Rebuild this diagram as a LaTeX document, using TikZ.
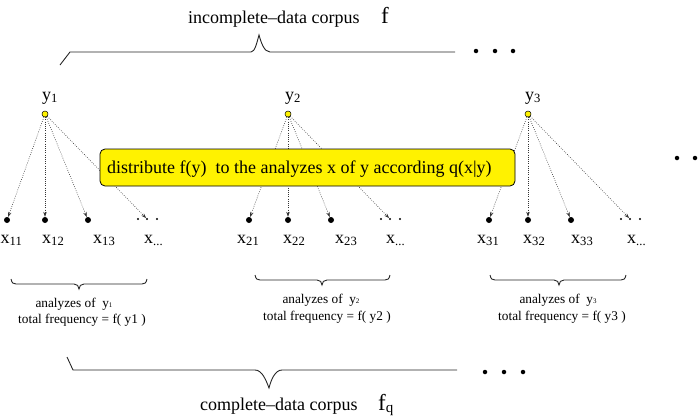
\documentclass[tikz,border=0pt]{standalone}
\usepackage{fontspec}
\setmainfont{Liberation Serif}
\usetikzlibrary{arrows.meta}
\newcommand\fsz[1]{\fontsize{#1}{#1}\selectfont}
\newcommand\sbrace[4]{%
  \draw[brace] ({#1},{#4-5}) .. controls ({#1+1},{#4-1}) and ({#1+2},{#4}) .. ({#1+5},{#4})
    -- ({#2-5},{#4}) .. controls ({#2-2},{#4}) and ({#2},{#4+2}) .. ({#2},{#4+5})
    .. controls ({#2},{#4+2}) and ({#2+2},{#4}) .. ({#2+5},{#4})
    -- ({#3-5},{#4}) .. controls ({#3-2},{#4}) and ({#3-1},{#4-1}) .. ({#3},{#4-5});}
\begin{document}
\begin{tikzpicture}[x=1pt,y=-1pt,
  xdot/.style={circle,fill=black,inner sep=0pt,minimum size=6pt},
  sdot/.style={circle,fill=black,inner sep=0pt,minimum size=2.2pt},
  bigdot/.style={circle,fill=black,inner sep=0pt,minimum size=4.5pt},
  ydot/.style={circle,fill=yellow,draw=black,line width=0.5pt,inner sep=0pt,minimum size=6pt},
  arr/.style={draw=black!80,line width=0.6pt,dash pattern=on 0.7pt off 1.5pt,-{Stealth[length=5pt,width=3.5pt]}},
  brace/.style={draw=black!85,line width=0.9pt},
  lbl/.style={inner sep=0pt,anchor=base west,font=\fsz{18}},
  small/.style={inner sep=0pt,anchor=base,font=\fsz{13.3}}]
\useasboundingbox (0,0) rectangle (698,418);
% top title
\node[lbl] (ttl) at (188,23) {incomplete--data corpus};
\node[lbl,font=\fsz{23}] (tf) at (381,23) {f};
\draw[brace] (60,65) -- (70,52) -- (251,52) .. controls (255,52) and (257,42) .. (259,35)
  .. controls (261,42) and (264,52) .. (270,52) -- (455,52);
\node[bigdot] (td1) at (476,51) {};
\node[bigdot] (td2) at (495,51) {};
\node[bigdot] (td3) at (513,51) {};
% y nodes
\node[ydot] (y1) at (45,114) {};
\node[ydot] (y2) at (288,114) {};
\node[ydot] (y3) at (528,114) {};
\node[lbl] (ly1) at (42,100) {y\textsubscript{1}};
\node[lbl] (ly2) at (285,100) {y\textsubscript{2}};
\node[lbl] (ly3) at (525,100) {y\textsubscript{3}};
% x nodes group 1
\node[xdot] (x11) at (7,220) {};
\node[xdot] (x12) at (45,220) {};
\node[xdot] (x13) at (88,220) {};
\node[sdot] (x1a) at (138,219) {};
\node[sdot] (x1b) at (147,219) {};
\node[sdot] (x1c) at (157,219) {};
% group 2
\node[xdot] (x21) at (249,220) {};
\node[xdot] (x22) at (288,220) {};
\node[xdot] (x23) at (331,220) {};
\node[sdot] (x2a) at (381,219) {};
\node[sdot] (x2b) at (390,219) {};
\node[sdot] (x2c) at (400,219) {};
% group 3
\node[xdot] (x31) at (489,220) {};
\node[xdot] (x32) at (528,220) {};
\node[xdot] (x33) at (571,220) {};
\node[sdot] (x3a) at (621,219) {};
\node[sdot] (x3b) at (630,219) {};
\node[sdot] (x3c) at (640,219) {};
% x labels
\node[lbl] (lx11) at (0.5,243) {x\textsubscript{11}};
\node[lbl] (lx12) at (42,243) {x\textsubscript{12}};
\node[lbl] (lx13) at (93,243) {x\textsubscript{13}};
\node[lbl] (lx1) at (144,243) {x\textsubscript{...}};
\node[lbl] (lx21) at (237,243) {x\textsubscript{21}};
\node[lbl] (lx22) at (283,243) {x\textsubscript{22}};
\node[lbl] (lx23) at (335,243) {x\textsubscript{23}};
\node[lbl] (lx2) at (386,243) {x\textsubscript{...}};
\node[lbl] (lx31) at (477,243) {x\textsubscript{31}};
\node[lbl] (lx32) at (523,243) {x\textsubscript{32}};
\node[lbl] (lx33) at (571,243) {x\textsubscript{33}};
\node[lbl] (lx3) at (627,243) {x\textsubscript{...}};
% arrows
\draw[arr] (y1) -- (x11);
\draw[arr] (y1) -- (x12);
\draw[arr] (y1) -- (x13);
\draw[arr] (y1) -- (x1b);
\draw[arr] (y2) -- (x21);
\draw[arr] (y2) -- (x22);
\draw[arr] (y2) -- (x23);
\draw[arr] (y2) -- (x2b);
\draw[arr] (y3) -- (x31);
\draw[arr] (y3) -- (x32);
\draw[arr] (y3) -- (x33);
\draw[arr] (y3) -- (x3b);
% right dots
\node[bigdot] (rd1) at (677,158) {};
\node[bigdot] (rd2) at (695,158) {};
% box
\draw[fill=yellow,draw=black,line width=0.8pt,rounded corners=5pt] (100,149) rectangle (515,186);
\node[lbl] (boxt) at (107,173) {distribute f(y)\ \ to the analyzes x of y according q(x|y)};
% small braces
\sbrace{11}{79}{147}{284}
\sbrace{255}{322}{390}{280}
\sbrace{490}{559}{626}{280}
\node[small] (a1) at (74,307) {analyzes of\ \ y{\fsz{7}1}};
\node[small] (b1) at (82,323) {total frequency = f( y1 )};
\node[small] (a2) at (321,303) {analyzes of\ \ y{\fsz{7}2}};
\node[small] (b2) at (327,320) {total frequency = f( y2 )};
\node[small] (a3) at (558,303) {analyzes of\ \ y{\fsz{7}3}};
\node[small] (b3) at (562,320) {total frequency = f( y3 )};
% bottom brace
\draw[brace] (67,357) -- (73,370) -- (255,370) .. controls (262,370) and (266,380) .. (269,388)
  .. controls (271,380) and (275,370) .. (282,370) -- (457,370);
\node[bigdot] (bd1) at (485,372) {};
\node[bigdot] (bd2) at (504,372) {};
\node[bigdot] (bd3) at (523,372) {};
\node[lbl] (btl) at (200,410) {complete--data corpus};
\node[lbl] (bf) at (378,410) {{\fsz{23}f}\raisebox{-2pt}{\fsz{15}q}};
\end{tikzpicture}
\end{document}
